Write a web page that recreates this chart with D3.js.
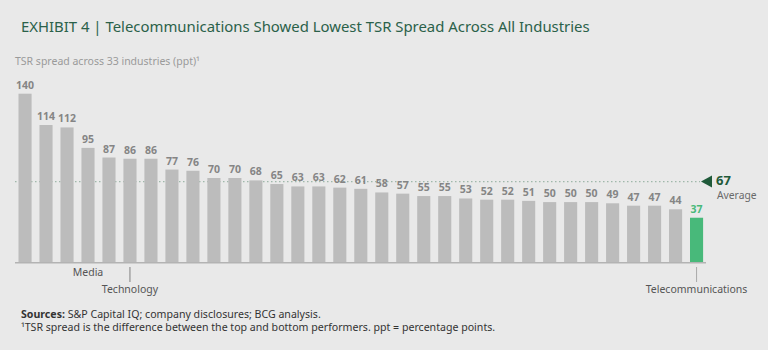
<!DOCTYPE html>
<html><head><meta charset="utf-8">
<script src="https://cdn.jsdelivr.net/npm/d3@7"></script>
<style>
html,body{margin:0;padding:0;background:#e9e9e9;}
svg{display:block;font-family:"Noto Sans","Open Sans",sans-serif;}
</style></head>
<body><svg id="c" width="768" height="350"></svg>
<script>
const values = [140,114,112,95,87,86,86,77,76,70,70,68,65,63,63,62,61,58,57,55,55,53,52,52,51,50,50,50,49,47,47,44,37];
const industries = values.map((v,i)=>"Industry " + (i+1));
industries[3] = "Media";
industries[5] = "Technology";
industries[32] = "Telecommunications";
const highlight = "Telecommunications";
const averageValue = 67;
const titleText = "EXHIBIT 4 | Telecommunications Showed Lowest TSR Spread Across All Industries";
const subtitleText = "TSR spread across 33 industries (ppt)\u00B9";

const svg = d3.select("#c");
svg.append("rect").attr("width",768).attr("height",350).attr("fill","#e9e9e9");

const baseY = 262.3;
const x = d3.scaleBand().domain(industries).range([14.3, 707.3]).paddingInner(0.376).paddingOuter(0.2);
const y = d3.scaleLinear().domain([0, 140]).range([baseY, 93.7]);

svg.append("text").attr("x",21).attr("y",32).attr("fill","#2b6149").attr("font-size",14.9)
  .text(titleText);
svg.append("text").attr("x",15).attr("y",65).attr("fill","#9a9a9a").attr("font-size",10.5)
  .text(subtitleText);

// average line
svg.append("line").attr("x1",15).attr("x2",700).attr("y1",y(averageValue)).attr("y2",y(averageValue))
  .attr("stroke","#9fb8aa").attr("stroke-width",1.2).attr("stroke-dasharray","1.5,2.5");

// bars
svg.selectAll("rect.bar").data(values).enter().append("rect").attr("class","bar")
  .attr("x",(d,i)=>x(industries[i])).attr("width",x.bandwidth())
  .attr("y",d=>y(d)).attr("height",d=>baseY-y(d))
  .attr("fill",(d,i)=>industries[i]===highlight?"#48b97a":"#bcbcbc");

svg.selectAll("text.val").data(values).enter().append("text").attr("class","val")
  .attr("x",(d,i)=>x(industries[i])+x.bandwidth()/2).attr("y",d=>y(d)-5)
  .attr("text-anchor","middle").attr("font-size",10.5).attr("font-weight","bold")
  .attr("fill",(d,i)=>industries[i]===highlight?"#48b97a":"#858585")
  .text(d=>d);

// axis
svg.append("line").attr("x1",15).attr("x2",706).attr("y1",baseY+0.5).attr("y2",baseY+0.5)
  .attr("stroke","#b3b3b3").attr("stroke-width",1.5);

// average marker
const ay = y(averageValue);
svg.append("path").attr("d",`M701,${ay} L712,${ay-6} L712,${ay+6} Z`).attr("fill","#1f5a3a");
svg.append("text").attr("x",716).attr("y",ay+3.5).attr("font-size",13).attr("font-weight","bold")
  .attr("fill","#1f5a3a").text(averageValue);
svg.append("text").attr("x",717).attr("y",ay+17).attr("font-size",10.3).attr("fill","#6a6a6a").text("Average");

// category annotations
const cx = n => x(n)+x.bandwidth()/2;
svg.append("text").attr("x",cx("Media")).attr("y",276).attr("text-anchor","middle")
  .attr("font-size",10.5).attr("fill","#555").text("Media");
svg.append("line").attr("x1",cx("Technology")).attr("x2",cx("Technology")).attr("y1",267).attr("y2",282)
  .attr("stroke","#666").attr("stroke-width",0.8);
svg.append("text").attr("x",cx("Technology")).attr("y",293).attr("text-anchor","middle")
  .attr("font-size",10.5).attr("fill","#555").text("Technology");
svg.append("line").attr("x1",cx("Telecommunications")).attr("x2",cx("Telecommunications")).attr("y1",267).attr("y2",282)
  .attr("stroke","#999").attr("stroke-width",0.8);
svg.append("text").attr("x",cx("Telecommunications")).attr("y",293).attr("text-anchor","middle")
  .attr("font-size",10.5).attr("fill","#555").text("Telecommunications");

// footer
const s = svg.append("text").attr("x",21).attr("y",318).attr("font-size",10.6).attr("fill","#333");
s.append("tspan").attr("font-weight","bold").text("Sources: ");
s.append("tspan").text("S&P Capital IQ; company disclosures; BCG analysis.");
svg.append("text").attr("x",21).attr("y",331).attr("font-size",10.6).attr("fill","#333")
  .text("\u00B9TSR spread is the difference between the top and bottom performers. ppt = percentage points.");
</script></body></html>
